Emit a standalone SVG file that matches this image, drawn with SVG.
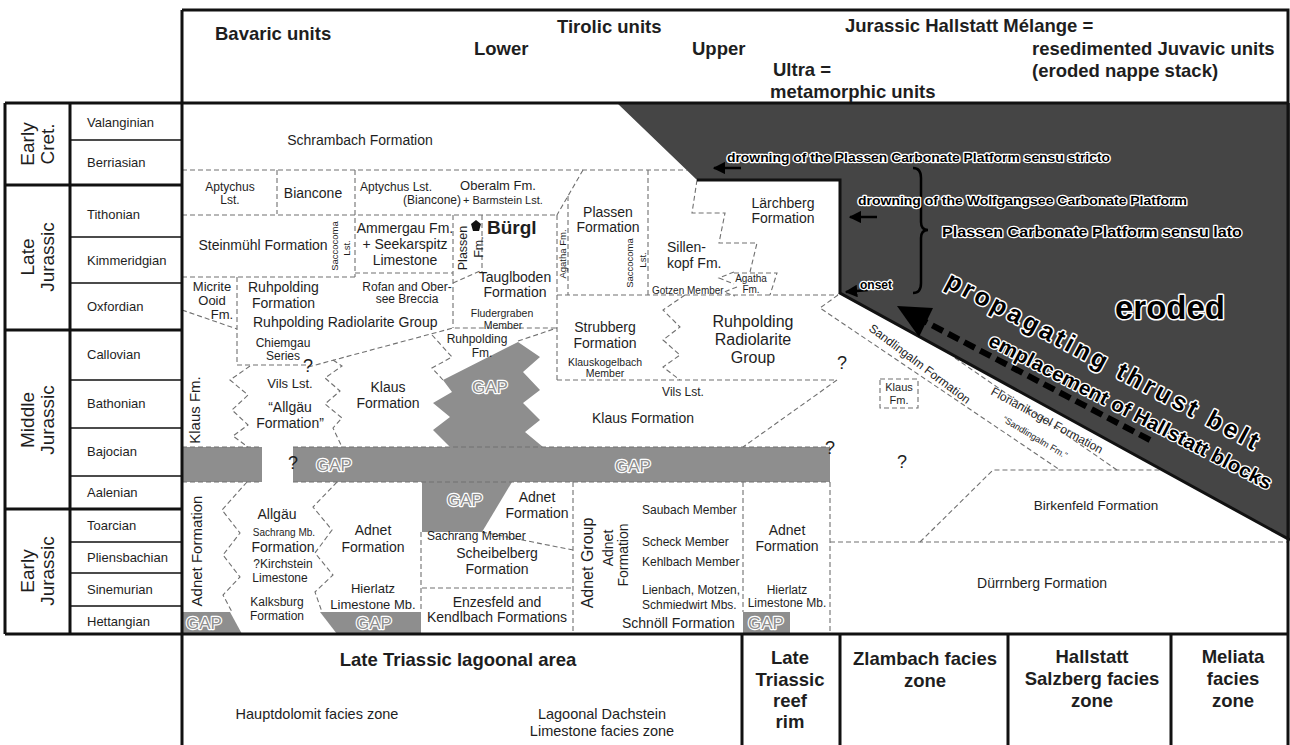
<svg xmlns="http://www.w3.org/2000/svg" width="1290" height="745" viewBox="0 0 1290 745">
<defs>
<style>
text{font-family:"Liberation Sans",Arial,sans-serif;fill:#1e1e1e}
.c{text-anchor:middle}
.b{font-weight:bold}
.h{font-size:18.5px;font-weight:bold}
.st{font-size:13px}
.ser{font-size:19px;text-anchor:middle}
.f16{font-size:16px}
.f14{font-size:14px}
.f13{font-size:13px}
.f12{font-size:12px}
.f11{font-size:11px}
.f10{font-size:10px}
.f9{font-size:9.5px}
.q{font-size:18px;text-anchor:middle}
.d{fill:none;stroke:#707070;stroke-width:1.1;stroke-dasharray:5 3}
.k{fill:none;stroke:#111;stroke-width:3}
.k2{fill:none;stroke:#111;stroke-width:1.6}
.gap{fill:#8e8e8e}
.gt{font-size:17px;fill:#8e8e8e;stroke:#fff;stroke-width:2.4;paint-order:stroke;stroke-linejoin:round;text-anchor:middle}
.halo{fill:#000;stroke:#fff;stroke-width:2.4;paint-order:stroke;stroke-linejoin:round;font-weight:bold}
.ar{stroke:#000;stroke-width:2.5;fill:none;marker-end:url(#ah)}
</style>
<marker id="ah" viewBox="0 0 10 10" refX="9" refY="5" markerWidth="5" markerHeight="5" orient="auto"><path d="M0,0 L10,5 L0,10 z" fill="#000"/></marker>
</defs>
<rect x="0" y="0" width="1290" height="745" fill="#fff"/>

<g id="eroded-area">
<polygon points="617,103 1290,103 1290,540 838,293 840,293 840,180 697,180" fill="#454545"/>
</g>

<g id="gaps">
<rect class="gap" x="182" y="447" width="80" height="35"/>
<rect class="gap" x="293" y="447" width="537" height="35"/>
<polygon class="gap" points="443,380 518,342 540,357 523,372 540,390 523,403 540,420 525,432 543,447 450,447 433,430 450,417 433,403 452,392"/>
<polygon class="gap" points="422,482 512,482 482,532 422,532"/>
<polygon class="gap" points="182,612 230,612 242,634 182,634"/>
<polygon class="gap" points="320,612 421,612 421,634 337,634"/>
<rect class="gap" x="743" y="612" width="47" height="22"/>
</g>

<g id="connectors">
<path class="d" d="M182,170 H687"/>
<path class="d" d="M277,170 V214"/>
<path class="d" d="M355,170 V277"/>
<path class="d" d="M182,215 H557"/>
<path class="d" d="M583,170 L557,215"/>
<path class="d" d="M182,277 H355"/>
<path class="d" d="M355,273 H453"/>
<path class="d" d="M453,215 V328"/>
<path class="d" d="M482,215 V272"/>
<path class="d" d="M453,283 L482,270"/>
<path class="d" d="M557,215 V380"/>
<path class="d" d="M568,196 V295"/>
<path class="d" d="M648,170 V295"/>
<path class="d" d="M557,295 H838"/>
<path class="d" d="M697,180 L692,213 L725,213 L719,243 L757,243 L750,272"/>
<path class="d" d="M734,273 H777 L770,295"/>
<path class="d" d="M734,272 L719,278 L734,284"/>
<path class="d" d="M737,287 L724,292 L735,296"/>
<path class="d" d="M182,310 L237,329"/>
<path class="d" d="M237,277 V365 H308"/>
<path class="d" d="M308,367 L453,328 H557"/>
<path class="d" d="M432,335 L452,357 L432,368 L443,380"/>
<path class="d" d="M518,341 L557,328"/>
<path class="d" d="M250,366 L230,380 L248,395 L232,410 L248,425 L233,436 L248,447"/>
<path class="d" d="M333,360 L342,366 L325,378 L340,391 L325,404 L342,418 L333,428 L342,447"/>
<path class="d" d="M557,380 H837 L743,447"/>
<path class="d" d="M685,295 L663,310 L680,327 L663,340 L680,355 L663,367 L680,380"/>
<path class="d" d="M838,295 L820,308 L1060,470"/>
<path class="d" d="M955,358 L1117,470"/>
<path class="d" d="M182,447 H262 M293,447 H830"/>
<path class="d" d="M182,482 H262 M293,482 H830"/>
<path class="d" d="M247,482 L222,510 L240,533 L223,555 L240,577 L223,595 L232,612"/>
<path class="d" d="M337,482 L313,507 L332,530 L315,553 L333,575 L315,592 L322,612"/>
<path class="d" d="M421,532 V612"/>
<path class="d" d="M482,532 L573,550"/>
<path class="d" d="M422,588 H573"/>
<path class="d" d="M573,482 V634"/>
<path class="d" d="M743,482 V612"/>
<path class="d" d="M830,482 V634"/>
<path class="d" d="M830,542 H1288"/>
<path class="d" d="M920,542 L993,470 H1163"/>
<rect class="d" x="880" y="379" width="38" height="29"/>
</g>

<g id="frame">
<path class="k" d="M182,10 H1288 V745"/>
<path class="k" d="M182,10 V745"/>
<path class="k" d="M5,103 H1288"/>
<path class="k" d="M5,634 H1288"/>
<path class="k" d="M5,103 V634"/>
<path class="k" d="M70,103 V634"/>
<path class="k" d="M5,185 H182 M5,330 H182 M5,509 H182"/>
<path class="k2" d="M70,140 H182 M70,237 H182 M70,283 H182 M70,380 H182 M70,428 H182 M70,476 H182 M70,542 H182 M70,573 H182 M70,606 H182"/>
<path class="k" d="M742,634 V745 M840,634 V745 M1008,634 V745 M1171,634 V745"/>
<path class="k" d="M697,180 H840 V293 L1290,540"/>
</g>

<g id="arrows">
<path class="ar" d="M741,168 H714"/>
<path class="ar" d="M877,217 H850"/>
<path class="ar" d="M868,290 L846,292"/>
<path d="M913,168 Q921,168 921,178 L921,222 Q921,230 928,230 Q921,230 921,238 L921,283 Q921,293 913,293" fill="none" stroke="#000" stroke-width="2.5"/>
<path d="M1150,440 L924,321" fill="none" stroke="#000" stroke-width="6" stroke-dasharray="12 6"/>
<polygon points="897,306 933,308 919,337" fill="#000"/>
</g>

<g id="header">
<text class="h" x="215" y="40">Bavaric units</text>
<text class="h" x="557" y="33">Tirolic units</text>
<text class="h" x="474" y="55">Lower</text>
<text class="h" x="692" y="55">Upper</text>
<text class="h" x="773" y="76">Ultra =</text>
<text class="h" x="770" y="98">metamorphic units</text>
<text class="h" x="845" y="32">Jurassic Hallstatt Mélange =</text>
<text class="h" x="1032" y="55">resedimented Juvavic units</text>
<text class="h" x="1032" y="77">(eroded nappe stack)</text>
</g>

<g id="series">
<text class="ser" transform="translate(27,144) rotate(-90)" y="6.8">Early</text>
<text class="ser" transform="translate(47,144) rotate(-90)" y="6.8">Cret.</text>
<text class="ser" transform="translate(27,257) rotate(-90)" y="6.8">Late</text>
<text class="ser" transform="translate(47,257) rotate(-90)" y="6.8">Jurassic</text>
<text class="ser" transform="translate(27,420) rotate(-90)" y="6.8">Middle</text>
<text class="ser" transform="translate(47,420) rotate(-90)" y="6.8">Jurassic</text>
<text class="ser" transform="translate(27,571) rotate(-90)" y="6.8">Early</text>
<text class="ser" transform="translate(47,571) rotate(-90)" y="6.8">Jurassic</text>
</g>

<g id="stages">
<text class="st" x="87" y="127">Valanginian</text>
<text class="st" x="87" y="167">Berriasian</text>
<text class="st" x="87" y="219">Tithonian</text>
<text class="st" x="87" y="265">Kimmeridgian</text>
<text class="st" x="87" y="311">Oxfordian</text>
<text class="st" x="87" y="359">Callovian</text>
<text class="st" x="87" y="408">Bathonian</text>
<text class="st" x="87" y="456">Bajocian</text>
<text class="st" x="87" y="497">Aalenian</text>
<text class="st" x="87" y="530">Toarcian</text>
<text class="st" x="87" y="562">Pliensbachian</text>
<text class="st" x="87" y="594">Sinemurian</text>
<text class="st" x="87" y="626">Hettangian</text>
</g>

<g id="schrambach"><text class="f14 c" x="360" y="145">Schrambach Formation</text></g>
<g id="aptychus"><text class="f12 c" x="230" y="191">Aptychus</text><text class="f12 c" x="230" y="204">Lst.</text></g>
<g id="biancone"><text class="f14 c" x="313" y="198">Biancone</text></g>
<g id="aptychus2"><text class="f12" x="360" y="191">Aptychus Lst.</text><text class="f12" x="403" y="204">(Biancone)</text></g>
<g id="oberalm"><text class="f13 c" x="498" y="190">Oberalm Fm.</text><text class="f11" x="463" y="204">+ Barmstein Lst.</text></g>
<g id="steinmuehl"><text class="f14 c" x="263" y="250">Steinmühl Formation</text>
<text class="f9 c" transform="translate(335,246) rotate(-90)" y="3.4">Saccocoma</text>
<text class="f9 c" transform="translate(347,248) rotate(-90)" y="3.4">Lst.</text></g>
<g id="ammergau"><text class="f14 c" x="405" y="233">Ammergau Fm.</text><text class="f14 c" x="405" y="249">+ Seekarspitz</text><text class="f14 c" x="405" y="265">Limestone</text></g>
<g id="plassen-fm"><text class="c" style="font-size:12.5px" transform="translate(462,248) rotate(-90)" y="4.5">Plassen</text>
<text class="c" style="font-size:12.5px" transform="translate(478,247) rotate(-90)" y="4.5">Fm.</text>
<polygon points="476,220 481,224 479,231 473,231 471,224" fill="#111"/></g>
<g id="buergl"><text class="b" style="font-size:19px" x="487" y="234">Bürgl</text></g>
<g id="agatha1"><text class="c" style="font-size:9.5px" transform="translate(563,254) rotate(-90)" y="3.4">Agatha Fm.</text></g>
<g id="plassen-formation"><text class="f14 c" x="608" y="217">Plassen</text><text class="f14 c" x="608" y="232">Formation</text>
<text class="f9 c" transform="translate(630,263) rotate(-90)" y="3.4">Saccocoma</text>
<text class="f9 c" transform="translate(643,260) rotate(-90)" y="3.4">Lst.</text></g>
<g id="sillenkopf"><text class="f14" x="667" y="252">Sillen-</text><text class="f14" x="667" y="268">kopf Fm.</text></g>
<g id="laerchberg"><text class="f14 c" x="783" y="208">Lärchberg</text><text class="f14 c" x="783" y="223">Formation</text></g>
<g id="gotzen"><text class="f10" x="652" y="294">Gotzen Member</text></g>
<g id="agatha2"><text class="f10 c" x="751" y="282">Agatha</text><text class="f10 c" x="751" y="293">Fm.</text></g>
<g id="micrite"><text class="f13 c" x="212" y="291">Micrite</text><text class="f13 c" x="212" y="305">Ooid</text><text class="f13 c" x="222" y="319">Fm.</text></g>
<g id="ruhpolding-fm"><text class="f14" x="248" y="292">Ruhpolding</text><text class="f14" x="252" y="308">Formation</text></g>
<g id="rofan"><text class="f12 c" x="407" y="291">Rofan and Ober-</text><text class="f12 c" x="407" y="303">see Breccia</text></g>
<g id="ruhpolding-group1"><text class="f14" x="253" y="327">Ruhpolding Radiolarite Group</text></g>
<g id="tauglboden"><text class="f14 c" x="515" y="282">Tauglboden</text><text class="f14 c" x="515" y="297">Formation</text>
<text class="c" style="font-size:10.5px" x="502" y="317">Fludergraben</text><text class="c" style="font-size:10.5px" x="503" y="329">Member</text></g>
<g id="chiemgau"><text class="f12 c" x="283" y="347">Chiemgau</text><text class="f12 c" x="283" y="360">Series</text><text class="q" x="308" y="372">?</text></g>
<g id="klaus-fm-left"><text class="c" style="font-size:15px" transform="translate(195,410) rotate(-90)" y="5.4">Klaus Fm.</text></g>
<g id="vils-allgaeu"><text class="f13 c" x="290" y="388">Vils Lst.</text><text class="f14 c" x="290" y="412">“Allgäu</text><text class="f14 c" x="290" y="428">Formation”</text></g>
<g id="klaus1"><text class="f14 c" x="388" y="392">Klaus</text><text class="f14 c" x="388" y="408">Formation</text></g>
<g id="ruhpolding-fm2"><text class="f12 c" x="477" y="343">Ruhpolding</text><text class="f12 c" x="482" y="357">Fm.</text></g>
<g id="strubberg"><text class="f14 c" x="605" y="332">Strubberg</text><text class="f14 c" x="605" y="348">Formation</text>
<text class="c" style="font-size:10.5px" x="605" y="366">Klauskogelbach</text><text class="c" style="font-size:10.5px" x="605" y="377">Member</text></g>
<g id="ruhpolding-group2"><text class="f16 c" x="753" y="327">Ruhpolding</text><text class="f16 c" x="753" y="345">Radiolarite</text><text class="f16 c" x="753" y="363">Group</text></g>
<g id="klaus2"><text class="f12 c" x="683" y="396">Vils Lst.</text><text class="f14 c" x="643" y="423">Klaus Formation</text></g>
<g id="queries"><text class="q" x="842" y="369">?</text><text class="q" x="830" y="454">?</text><text class="q" x="293" y="469">?</text><text class="q" x="902" y="468">?</text></g>
<g id="gap-labels">
<text class="gt" x="334" y="471">GAP</text>
<text class="gt" x="633" y="472">GAP</text>
<text class="gt" x="490" y="393">GAP</text>
<text class="gt" x="465" y="506">GAP</text>
<text class="gt" x="204" y="629">GAP</text>
<text class="gt" x="374" y="629">GAP</text>
<text class="gt" x="766" y="629">GAP</text>
</g>
<g id="adnet-left"><text class="c" style="font-size:15px" transform="translate(197,551) rotate(-90)" y="5.4">Adnet Formation</text></g>
<g id="allgaeu"><text class="f14 c" x="277" y="519">Allgäu</text><text class="c" style="font-size:10px" x="284" y="536">Sachrang Mb.</text>
<text class="f14 c" x="283" y="552">Formation</text><text class="f12 c" x="283" y="568">?Kirchstein</text><text class="f12 c" x="280" y="582">Limestone</text>
<text class="f12 c" x="277" y="606">Kalksburg</text><text class="f12 c" x="277" y="620">Formation</text></g>
<g id="adnet2"><text class="f14 c" x="373" y="535">Adnet</text><text class="f14 c" x="373" y="552">Formation</text>
<text class="f13 c" x="373" y="593">Hierlatz</text><text class="f13 c" x="373" y="609">Limestone Mb.</text></g>
<g id="adnet3"><text class="f14 c" x="537" y="502">Adnet</text><text class="f14 c" x="537" y="518">Formation</text></g>
<g id="scheibelberg"><text class="f12" x="427" y="540">Sachrang Member</text><text class="f14 c" x="497" y="558">Scheibelberg</text><text class="f14 c" x="497" y="574">Formation</text></g>
<g id="enzesfeld"><text class="f14 c" x="497" y="607">Enzesfeld and</text><text class="f14 c" x="497" y="622">Kendlbach Formations</text></g>
<g id="adnet-group"><text class="f16 c" transform="translate(587,563) rotate(-90)" y="5.8">Adnet Group</text>
<text class="f14 c" transform="translate(608,548) rotate(-90)" y="5">Adnet</text>
<text class="f14 c" transform="translate(623,555) rotate(-90)" y="5">Formation</text>
<text class="f12" x="642" y="514">Saubach Member</text><text class="f12" x="642" y="546">Scheck Member</text><text class="f12" x="642" y="566">Kehlbach Member</text>
<text class="f12" x="642" y="594">Lienbach, Motzen,</text><text class="f12" x="642" y="609">Schmiedwirt Mbs.</text>
<text class="f14" x="622" y="628">Schnöll Formation</text></g>
<g id="adnet4"><text class="f14 c" x="787" y="535">Adnet</text><text class="f14 c" x="787" y="551">Formation</text>
<text class="f12 c" x="787" y="594">Hierlatz</text><text class="f12 c" x="787" y="607">Limestone Mb.</text></g>
<g id="birkenfeld"><text class="c" style="font-size:13.5px" x="1096" y="510">Birkenfeld Formation</text></g>
<g id="duerrnberg"><text class="f14 c" x="1042" y="588">Dürrnberg Formation</text></g>
<g id="klaus-small"><text class="f11 c" x="899" y="391">Klaus</text><text class="f11 c" x="899" y="404">Fm.</text></g>
<g id="sandlingalm"><text class="f12" transform="translate(868,330) rotate(37)">Sandlingalm Formation</text></g>
<g id="florianikogel"><text class="f12" transform="translate(990,394) rotate(28.5)">Florianikogel Formation</text></g>
<g id="sandlingalm2"><text style="font-size:9px" transform="translate(1002,421) rotate(31)">“Sandlingalm Fm.”</text></g>

<g id="dark-labels">
<text class="halo" style="font-size:12px" x="727" y="162" textLength="383" lengthAdjust="spacingAndGlyphs">drowning of the Plassen Carbonate Platform sensu stricto</text>
<text class="halo" style="font-size:12px" x="858" y="205" textLength="329" lengthAdjust="spacingAndGlyphs">drowning of the Wolfgangsee Carbonate Platform</text>
<text class="halo" style="font-size:14.5px" x="942" y="237" textLength="300" lengthAdjust="spacingAndGlyphs">Plassen Carbonate Platform sensu lato</text>
<text class="halo" style="font-size:12px" x="860" y="289">onset</text>
<text class="halo" style="font-size:33px;stroke-width:3" x="1115" y="319">eroded</text>
<text class="halo" style="font-size:25px;stroke-width:3" transform="translate(944,286) rotate(28)" textLength="350" lengthAdjust="spacing">propagating thrust belt</text>
<text class="halo" style="font-size:20px;stroke-width:2.6" transform="translate(987,345) rotate(27.3)" textLength="316" lengthAdjust="spacingAndGlyphs">emplacement of Hallstatt blocks</text>
</g>

<g id="facies">
<text class="h c" x="458" y="666">Late Triassic lagoonal area</text>
<text class="c" style="font-size:14.5px" x="317" y="719">Hauptdolomit facies zone</text>
<text class="c" style="font-size:14.5px" x="602" y="719">Lagoonal Dachstein</text>
<text class="c" style="font-size:14.5px" x="602" y="736">Limestone facies zone</text>
<text class="h c" x="790" y="664">Late</text><text class="h c" x="790" y="686">Triassic</text><text class="h c" x="790" y="707">reef</text><text class="h c" x="790" y="728">rim</text>
<text class="h c" x="925" y="665">Zlambach facies</text><text class="h c" x="925" y="687">zone</text>
<text class="h c" x="1092" y="663">Hallstatt</text><text class="h c" x="1092" y="685">Salzberg facies</text><text class="h c" x="1092" y="707">zone</text>
<text class="h c" x="1233" y="663">Meliata</text><text class="h c" x="1233" y="685">facies</text><text class="h c" x="1233" y="707">zone</text>
</g>
</svg>
